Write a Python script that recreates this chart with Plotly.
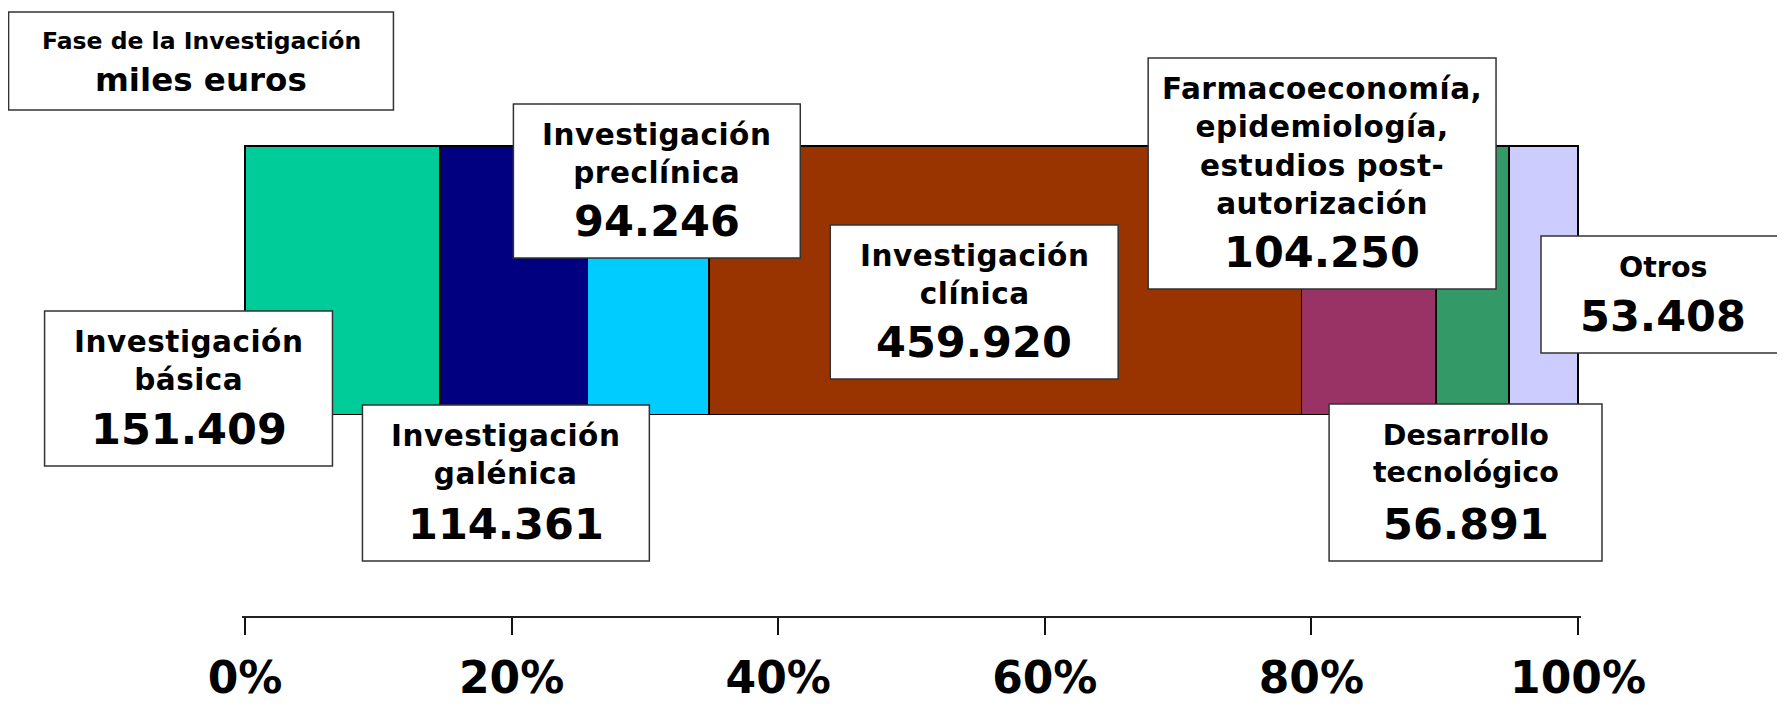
import plotly.graph_objects as go

# ---------------- data ----------------
categories = [
    "Investigación básica",
    "Investigación galénica",
    "Investigación preclínica",
    "Investigación clínica",
    "Farmacoeconomía, epidemiología, estudios post-autorización",
    "Desarrollo tecnológico",
    "Otros",
]
label_lines = [
    ["Investigación", "básica"],
    ["Investigación", "galénica"],
    ["Investigación", "preclínica"],
    ["Investigación", "clínica"],
    ["Farmacoeconomía,", "epidemiología,", "estudios post-", "autorización"],
    ["Desarrollo", "tecnológico"],
    ["Otros"],
]
values = [151409, 114361, 94246, 459920, 104250, 56891, 53408]  # miles euros
colors = ["#00CC99", "#000080", "#00CCFF", "#993300", "#993366", "#339966", "#CCCCFF"]
tick_vals = [0, 20, 40, 60, 80, 100]
tick_text = ["0%", "20%", "40%", "60%", "80%", "100%"]
title_lines = ["Fase de la Investigación", "miles euros"]

# ---------------- layout constants (page pixels) ----------------
PAGE_W, PAGE_H = 1785, 708
OFF = 8                             # default body margin of the html page
FIG_W, FIG_H = PAGE_W - OFF, PAGE_H - OFF
X0PX, X100PX = 244.5, 1578          # page pixel of 0% and 100%
AREA_L, AREA_R = 241.5, 1581        # plot area (slightly wider so outlines are not clipped)
AREA_T, AREA_B = 140, 616           # plot area top / bottom (axis line)
BAR_T, BAR_B = 146, 414.5

ppu = (X100PX - X0PX) / 100.0
xr = [(AREA_L - X0PX) / ppu, 100 + (AREA_R - X100PX) / ppu]


def px2x(px):
    return (px - AREA_L) / (AREA_R - AREA_L)


def py2y(py):
    return (AREA_B - py) / (AREA_B - AREA_T)


bar_y = (py2y(BAR_T) + py2y(BAR_B)) / 2
bar_w = py2y(BAR_T) - py2y(BAR_B)

# label boxes: (left, top, right, bottom) in page pixels, and text style
boxes_px = [
    (44, 311, 332, 466),
    (362, 405, 649, 561),
    (513, 104, 800, 258),
    (830, 225, 1118, 379),
    (1148, 58, 1496, 289),
    (1329, 404, 1602, 561),
    (1541, 236, 1790, 353),
]
spaced = [True, True, True, True, True, False, False]
title_box_px = (8, 12, 393, 110)

FONT = "DejaVu Sans"
BORDER = "#333333"

total = sum(values)

fig = go.Figure()
for cat, v, c in zip(categories, values, colors):
    fig.add_trace(go.Bar(
        x=[v / total * 100], y=[bar_y], orientation="h", width=bar_w,
        name=cat, marker=dict(color=c, line=dict(color="black", width=1.5)),
        hoverinfo="name+x",
    ))


def fmt(v):
    return f"{v:,}".replace(",", ".")


shapes = []
annotations = []
for lines, v, (l, t, r, b), sp in zip(label_lines, values, boxes_px, spaced):
    shapes.append(dict(type="rect", xref="paper", yref="paper",
                       x0=px2x(l), x1=px2x(r), y0=py2y(b), y1=py2y(t),
                       fillcolor="white", line=dict(color=BORDER, width=1.5),
                       layer="above"))
    cx = (l + min(r, PAGE_W)) / 2
    n = len(lines)
    if sp:
        txt = "<br>".join('<span style="letter-spacing:0.5px">%s</span>' % s for s in lines)
        fs = 29.5
    else:
        txt = "<br>".join(lines)
        fs = 28.5
    ly = t + 31 + (n - 1) * 38.5 / 2
    annotations.append(dict(
        text="<b>" + txt + "</b>", x=px2x(cx), y=py2y(ly),
        xref="paper", yref="paper", showarrow=False, xanchor="center", yanchor="middle",
        align="center", font=dict(family=FONT, size=fs, color="black")))
    annotations.append(dict(
        text="<b>" + fmt(v) + "</b>", x=px2x(cx), y=py2y(b - 37),
        xref="paper", yref="paper", showarrow=False, xanchor="center", yanchor="middle",
        font=dict(family=FONT, size=43, color="black")))

# title box
l, t, r, b = title_box_px
shapes.append(dict(type="rect", xref="paper", yref="paper",
                   x0=px2x(l), x1=px2x(r), y0=py2y(b), y1=py2y(t),
                   fillcolor="white", line=dict(color=BORDER, width=1.5), layer="above"))
annotations.append(dict(text="<b>" + title_lines[0] + "</b>", x=px2x((l + r) / 2), y=py2y(41),
                        xref="paper", yref="paper", showarrow=False, xanchor="center", yanchor="middle",
                        font=dict(family=FONT, size=23.5, color="black")))
annotations.append(dict(text="<b>" + title_lines[1] + "</b>", x=px2x((l + r) / 2), y=py2y(80),
                        xref="paper", yref="paper", showarrow=False, xanchor="center", yanchor="middle",
                        font=dict(family=FONT, size=32.5, color="black")))

fig.update_layout(
    width=FIG_W, height=FIG_H, barmode="stack", showlegend=False,
    paper_bgcolor="white", plot_bgcolor="white",
    margin=dict(l=AREA_L - OFF, r=FIG_W - (AREA_R - OFF), t=AREA_T - OFF,
                b=FIG_H - (AREA_B - OFF), pad=0, autoexpand=False),
    xaxis=dict(range=xr, tickvals=tick_vals, ticktext=tick_text, ticks="outside",
               ticklen=17, tickwidth=2, tickcolor="#111111", showline=True,
               linecolor="#222222", linewidth=2, showgrid=False, zeroline=False,
               tickfont=dict(family=FONT, size=44, color="black", weight="bold"),
               ticklabelstandoff=5, automargin=False, fixedrange=True),
    yaxis=dict(range=[0, 1], visible=False, fixedrange=True, automargin=False),
    shapes=shapes, annotations=annotations,
)

fig.write_html("out.html")
